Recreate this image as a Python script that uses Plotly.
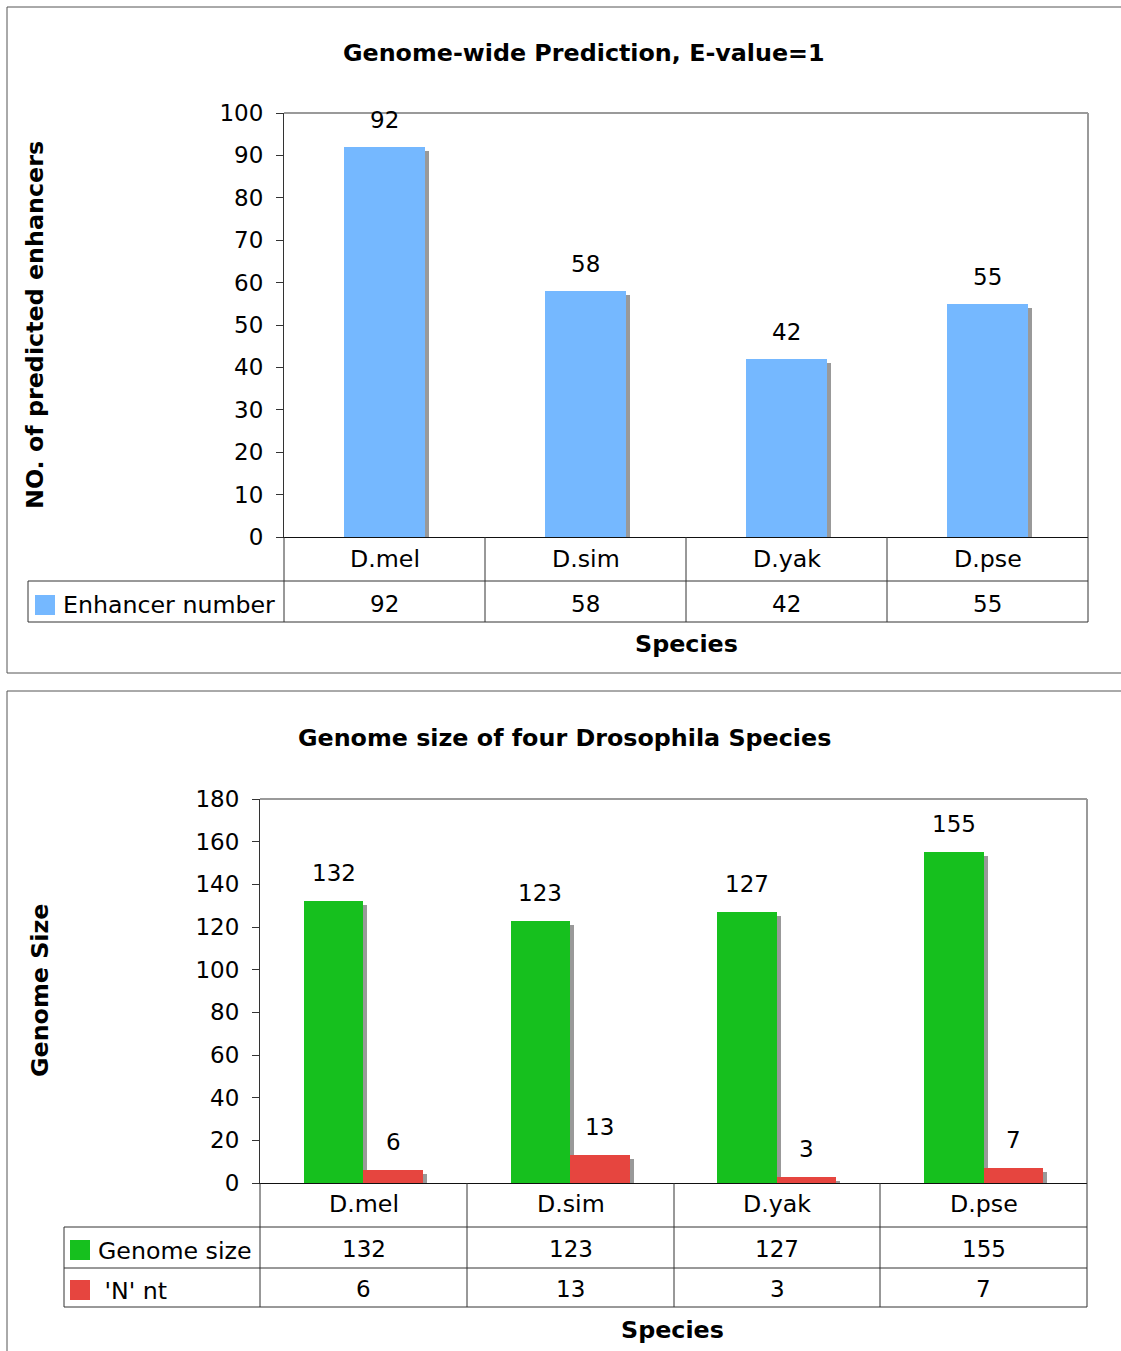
import plotly.graph_objects as go

# ---- data ----
species = ["D.mel", "D.sim", "D.yak", "D.pse"]
enhancer_number = [92, 58, 42, 55]
genome_size = [132, 123, 127, 155]
n_nt = [6, 13, 3, 7]

W, H = 1121, 1351
FONT = "DejaVu Sans, Verdana, sans-serif"
FS_NUM = 23
FS_TXT = 23.7
FS_BOLD = 23.8
BLUE = "#75B8FF"
GREEN = "#16C01E"
RED = "#E6453F"
SHADOW = "#999999"
LINE = "#333333"


def px(x):
    return x / W


def py(y):
    return 1 - y / H


# plot-area geometry (pixels)
top_area = dict(x0=284, x1=1088, y0=113, y1=537, ymax=100, dtick=10)
bot_area = dict(x0=260, x1=1087, y0=799, y1=1183, ymax=180, dtick=20)

fig = go.Figure()

idx = list(range(len(species)))


def add_bars(values, color, offset, width, area, xa, ya):
    """Bar plus a small drop shadow, both driven by the values."""
    unit_px = (area["x1"] - area["x0"]) / len(species)
    val_per_px = area["ymax"] / (area["y1"] - area["y0"])
    dx = 4 / unit_px
    dy = 4 * val_per_px
    shadow = go.Bar(
        x=idx, y=[v - dy for v in values], offset=offset + dx, width=width,
        marker=dict(color=SHADOW, line=dict(width=0)),
        xaxis=xa, yaxis=ya, hoverinfo="skip", showlegend=False,
    )
    bar = go.Bar(
        x=idx, y=values, offset=offset, width=width,
        marker=dict(color=color, line=dict(width=0)),
        xaxis=xa, yaxis=ya, hoverinfo="skip", showlegend=False,
    )
    return shadow, bar


s1, b1 = add_bars(enhancer_number, BLUE, -0.2, 0.4, top_area, "x", "y")
s2, b2 = add_bars(genome_size, GREEN, -0.288, 0.288, bot_area, "x2", "y2")
s3, b3 = add_bars(n_nt, RED, 0.0, 0.288, bot_area, "x2", "y2")
fig.add_traces([s1, b1, s2, s3, b2, b3])

annotations = []
shapes = []


def text(x, y, t, size=FS_TXT, bold=False, angle=0, xanchor="center"):
    annotations.append(dict(
        x=px(x), y=py(y), xref="paper", yref="paper", text=f"<b>{t}</b>" if bold else t,
        showarrow=False, xanchor=xanchor, yanchor="middle", textangle=angle,
        font=dict(family=FONT, size=size, color="#000"),
    ))


def hline(y, x0, x1, color=LINE, w=1):
    shapes.append(dict(type="line", xref="paper", yref="paper",
                       x0=px(x0), x1=px(x1), y0=py(y), y1=py(y),
                       line=dict(color=color, width=w)))


def vline(x, y0, y1, color=LINE, w=1):
    shapes.append(dict(type="line", xref="paper", yref="paper",
                       x0=px(x), x1=px(x), y0=py(y0), y1=py(y1),
                       line=dict(color=color, width=w)))


def swatch(x, y, color):
    shapes.append(dict(type="rect", xref="paper", yref="paper",
                       x0=px(x), x1=px(x + 20), y0=py(y), y1=py(y + 20),
                       fillcolor=color, line=dict(width=0)))


# value labels above bars
def bar_labels(values, offset, width, xa, ya, shift):
    for i, v in enumerate(values):
        annotations.append(dict(
            x=i + offset + width / 2, y=v, xref=xa, yref=ya, text=str(v),
            showarrow=False, yanchor="bottom", yshift=shift,
            font=dict(family=FONT, size=FS_NUM, color="#000"),
        ))


bar_labels(enhancer_number, -0.2, 0.4, "x", "y", 12)
bar_labels(genome_size, -0.288, 0.288, "x2", "y2", 13)
bar_labels(n_nt, 0.0, 0.288, "x2", "y2", 13)

# ---- outer chart frames ----
hline(7, 7, W + 5, "#555")
vline(7, 7, 673, "#555")
hline(673, 7, W + 5, "#555")
hline(691, 7, W + 5, "#555")
vline(7, 691, H + 5, "#555")

# ---- plot-area borders (top/right) ----
for a in (top_area, bot_area):
    hline(a["y0"], a["x0"], a["x1"], "#9a9a9a", 2)
    vline(a["x1"], a["y0"], a["y1"], "#9a9a9a", 2)

# ---- data table, top chart ----
cols_top = [284, 485, 686, 887, 1088]
for x in cols_top:
    vline(x, 537, 622)
hline(581, 28, 1088)
hline(622, 28, 1088)
vline(28, 581, 622)
swatch(35, 595, BLUE)
text(61, 605, "Enhancer number", xanchor="left")
for i, name in enumerate(species):
    cx = (cols_top[i] + cols_top[i + 1]) / 2
    text(cx, 559, name)
    text(cx, 604, str(enhancer_number[i]), size=FS_NUM)

# ---- data table, bottom chart ----
cols_bot = [260, 467, 674, 880, 1087]
for x in cols_bot:
    vline(x, 1183, 1307)
hline(1227, 64, 1087)
hline(1268, 64, 1087)
hline(1307, 64, 1087)
vline(64, 1227, 1307)
swatch(70, 1240, GREEN)
swatch(70, 1280, RED)
text(96, 1251, "Genome size", xanchor="left")
text(95, 1291, " 'N' nt", xanchor="left")
for i, name in enumerate(species):
    cx = (cols_bot[i] + cols_bot[i + 1]) / 2
    text(cx, 1204, name)
    text(cx, 1249, str(genome_size[i]), size=FS_NUM)
    text(cx, 1289, str(n_nt[i]), size=FS_NUM)

# ---- titles ----
text(584, 53, "Genome-wide Prediction, E-value=1", size=FS_BOLD, bold=True)
text(686, 644, "Species", size=FS_BOLD, bold=True)
text(35, 325, "NO. of predicted enhancers", size=FS_BOLD, bold=True, angle=-90)
text(564, 738, "Genome size of four Drosophila Species", size=FS_BOLD, bold=True)
text(673, 1330, "Species", size=FS_BOLD, bold=True)
text(40, 991, "Genome Size", size=FS_BOLD, bold=True, angle=-90)


def yax(area):
    return dict(
        domain=[py(area["y1"]), py(area["y0"])], range=[0, area["ymax"]],
        dtick=area["dtick"], tick0=0, showgrid=False, zeroline=False,
        showline=True, linecolor=LINE, linewidth=1, automargin=False,
        ticks="outside", ticklen=7, tickcolor=LINE, ticklabelstandoff=8,
        tickfont=dict(family=FONT, size=FS_NUM, color="#000"), fixedrange=True,
    )


def xax(area, anchor):
    return dict(
        domain=[px(area["x0"]), px(area["x1"])], range=[-0.5, len(species) - 0.5],
        showticklabels=False, showgrid=False, zeroline=False, automargin=False,
        showline=True, linecolor="#111", linewidth=1, ticks="",
        anchor=anchor, fixedrange=True,
    )


fig.update_layout(
    width=W, height=H, margin=dict(l=0, r=0, t=0, b=0, autoexpand=False),
    paper_bgcolor="white", plot_bgcolor="white",
    barmode="overlay", bargap=0,
    xaxis=xax(top_area, "y"), yaxis=yax(top_area) | dict(anchor="x"),
    xaxis2=xax(bot_area, "y2"), yaxis2=yax(bot_area) | dict(anchor="x2"),
    annotations=annotations, shapes=shapes, showlegend=False,
)

fig.write_html("out.html")
